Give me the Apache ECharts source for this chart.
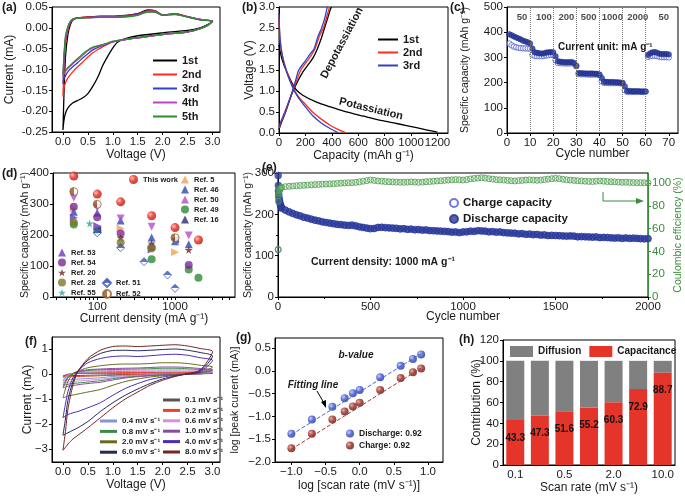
<!DOCTYPE html>
<html><head><meta charset="utf-8">
<script src="https://cdn.jsdelivr.net/npm/echarts@6/dist/echarts.min.js"></script>
<style>html,body{margin:0;padding:0;background:#fff}#c{width:685px;height:497px}</style>
</head><body><div id="c"></div>
<script>
// ================= DATA =================
// (a) CV, first five cycles
const aNames = ['1st', '2nd', '3rd', '4th', '5th'];
const aAnodicV = [0.0, 0.02, 0.05, 0.1, 0.15, 0.2, 0.3, 0.5, 0.75, 1.0, 1.25, 1.5, 1.7, 1.85, 2.0, 2.25, 2.5, 2.75, 3.0];
const aAnodic1 = [-0.245, -0.16, -0.07, -0.015, 0.008, 0.019, 0.024, 0.026, 0.028, 0.028, 0.03, 0.034, 0.043, 0.041, 0.031, 0.034, 0.027, 0.02, 0.016];
const aAnodic2 = [-0.165, -0.1, -0.04, -0.005, 0.012, 0.02, 0.024, 0.026, 0.027, 0.027, 0.029, 0.033, 0.041, 0.04, 0.031, 0.034, 0.027, 0.02, 0.016];
const aAnodic3 = [-0.135, -0.08, -0.03, 0.0, 0.014, 0.021, 0.024, 0.025, 0.027, 0.027, 0.028, 0.032, 0.04, 0.039, 0.03, 0.033, 0.026, 0.02, 0.016];
const aAnodic4 = [-0.118, -0.07, -0.025, 0.002, 0.015, 0.021, 0.023, 0.024, 0.026, 0.026, 0.027, 0.031, 0.039, 0.038, 0.03, 0.033, 0.026, 0.02, 0.016];
const aAnodic5 = [-0.112, -0.065, -0.02, 0.004, 0.016, 0.021, 0.023, 0.024, 0.025, 0.025, 0.026, 0.03, 0.038, 0.038, 0.03, 0.032, 0.026, 0.019, 0.016];
const aCathodicV = [3.0, 2.9, 2.75, 2.5, 2.0, 1.5, 1.25, 1.1, 1.0, 0.9, 0.8, 0.7, 0.6, 0.5, 0.4, 0.3, 0.2, 0.1, 0.05, 0.02, 0.0];
const aCathodic1 = [0.016, 0.008, 0.0, -0.006, -0.012, -0.019, -0.026, -0.034, -0.048, -0.068, -0.09, -0.118, -0.14, -0.158, -0.168, -0.174, -0.18, -0.192, -0.205, -0.222, -0.245];
const aCathodic2 = [0.016, 0.006, -0.002, -0.01, -0.016, -0.024, -0.028, -0.031, -0.034, -0.039, -0.045, -0.052, -0.06, -0.07, -0.082, -0.093, -0.105, -0.12, -0.132, -0.145, -0.165];
const aCathodic3 = [0.016, 0.006, -0.002, -0.01, -0.016, -0.024, -0.028, -0.031, -0.034, -0.038, -0.042, -0.047, -0.053, -0.062, -0.072, -0.083, -0.093, -0.105, -0.115, -0.122, -0.135];
const aCathodic4 = [0.016, 0.006, -0.002, -0.01, -0.016, -0.024, -0.028, -0.031, -0.033, -0.037, -0.041, -0.044, -0.048, -0.055, -0.065, -0.076, -0.086, -0.097, -0.105, -0.11, -0.118];
const aCathodic5 = [0.016, 0.006, -0.002, -0.009, -0.015, -0.023, -0.027, -0.03, -0.032, -0.036, -0.04, -0.043, -0.046, -0.053, -0.062, -0.073, -0.084, -0.095, -0.102, -0.107, -0.112];
const aXTicks = [0, 0.5, 1.0, 1.5, 2.0, 2.5, 3.0];

// (b) galvanostatic profiles
const bNames = ['1st', '2nd', '3rd'];
const bDisCap1 = [0, 15, 40, 70, 100, 130, 180, 280, 390, 490, 640, 770, 900, 1050, 1200];
const bDisV1 = [2.1, 1.85, 1.6, 1.38, 1.18, 1.03, 0.9, 0.74, 0.62, 0.52, 0.4, 0.3, 0.22, 0.12, 0.02];
const bDisCap2 = [0, 8, 25, 55, 85, 120, 160, 210, 260, 320, 390, 450, 505];
const bDisV2 = [2.75, 2.2, 1.85, 1.5, 1.25, 1.0, 0.82, 0.65, 0.48, 0.33, 0.18, 0.08, 0.01];
const bDisCap3 = [0, 8, 25, 55, 85, 120, 160, 210, 260, 320, 390, 445];
const bDisV3 = [2.85, 2.25, 1.85, 1.48, 1.22, 0.98, 0.78, 0.58, 0.4, 0.24, 0.1, 0.01];
const bChgCap1 = [0, 15, 50, 100, 140, 180, 220, 260, 290, 320, 345, 370, 390, 398];
const bChgV1 = [0.08, 0.22, 0.5, 0.95, 1.22, 1.45, 1.62, 1.8, 2.0, 2.25, 2.5, 2.75, 2.95, 3.0];
const bChgCap2 = [0, 15, 50, 100, 140, 165, 210, 250, 272, 305, 336, 360, 378, 382];
const bChgV2 = [0.12, 0.25, 0.52, 0.97, 1.3, 1.5, 1.7, 1.88, 2.0, 2.3, 2.5, 2.75, 2.95, 3.0];
const bChgCap3 = [0, 15, 50, 100, 130, 150, 200, 240, 265, 295, 323, 348, 362, 366];
const bChgV3 = [0.15, 0.28, 0.55, 0.98, 1.3, 1.5, 1.72, 1.9, 2.0, 2.3, 2.5, 2.75, 2.95, 3.0];
const bXTicks = [0, 200, 400, 600, 800, 1000, 1200];

// (c) rate performance
const cDischarge = [392, 388, 383, 379, 375, 371, 366, 363, 360, 355,
  335, 320, 318, 316, 315, 316, 319, 320, 321, 320,
  305, 285, 283, 282, 281, 281, 281, 282, 278, 265,
  238, 237, 237, 236, 236, 236, 236, 235, 235, 232,
  218, 203, 203, 202, 202, 202, 201, 201, 200, 199,
  185, 167, 167, 166, 166, 166, 166, 165, 165, 165,
  310, 316, 320, 321, 318, 314, 313, 313, 313, 312];
const cCharge = [355, 348, 343, 340, 338, 337, 336, 336, 335, 335,
  310, 306, 305, 305, 305, 306, 308, 309, 310, 310,
  290, 278, 277, 277, 276, 276, 276, 277, 275, 268,
  234, 233, 233, 233, 232, 232, 232, 232, 232, 230,
  205, 199, 199, 198, 198, 198, 198, 198, 197, 197,
  170, 163, 163, 163, 163, 163, 163, 163, 163, 164,
  302, 305, 306, 306, 305, 302, 301, 301, 301, 300];
const cRateLabels = ['50', '100', '200', '500', '1000', '2000', '50'];
const cRateLabelCycle = [6.5, 16, 25.7, 35.3, 45.6, 56.6, 67.8];
const cRateBoundaries = [10, 20, 30, 40, 50, 60];
const cXTicks = [0, 10, 20, 30, 40, 50, 60, 70];

// (d) comparison with literature
const dThisWork = [[50, 390], [100, 332], [200, 307], [500, 262], [1000, 224], [2000, 184]];
const dRef5 = [[50, 285], [200, 221], [1000, 144]];
const dRef46 = [[50, 275], [100, 272], [200, 247], [500, 192], [1000, 180], [1500, 170]];
const dRef50 = [[50, 320], [100, 288], [200, 253], [500, 227], [1500, 198]];
const dRef49 = [[50, 234], [100, 213], [500, 122], [1500, 89], [2000, 62]];
const dRef16 = [[100, 218], [1000, 186]];
const dRef53 = [[50, 256], [100, 229], [500, 153]];
const dRef54 = [[50, 291], [100, 257], [200, 205], [500, 160], [1500, 103]];
const dRef20 = [[200, 191], [500, 173], [1500, 152]];
const dRef28 = [[50, 240], [200, 176], [500, 157]];
const dRef55 = [[80, 237], [100, 215]];
const dRef51 = [[100, 207], [200, 159], [400, 114], [800, 71], [1000, 28]];
const dRef52 = [[50, 340], [100, 299], [1000, 191]];
const dXMinorTicks = [30, 40, 50, 60, 70, 80, 90, 100, 200, 300, 400, 500, 600, 700, 800, 900, 1000, 2000, 3000, 4000, 5000];

// (e) long-term cycling at 1000 mA/g
const eEarlyCycles = [1, 2, 3, 4, 6, 8, 11, 14, 17];
const eEarlyDischarge = [294, 270, 256, 248, 240, 233, 227, 222, 218];
const eEarlyCharge = [114, 258, 248, 242, 236, 230, 225, 220, 216];
const eEarlyCE = [42, 84, 89, 91, 93, 94, 95, 95.5, 96];
const eStep = 20; // cycles 20, 40, ... 2000
const eDischarge = [215, 210, 206, 202, 199, 196, 193, 191, 188, 186,
  184, 182, 180, 179, 177, 176, 175, 174, 173, 174,
  172, 170, 168, 167, 165, 166, 168, 169, 168, 167,
  167, 166, 165, 165, 164, 164, 163, 163, 162, 162,
  161, 160, 160, 159, 159, 158, 157, 157, 156, 157,
  158, 159, 159, 160, 160, 159, 158, 158, 157, 157,
  156, 155, 155, 154, 153, 153, 152, 152, 151, 151,
  150, 150, 149, 149, 149, 148, 148, 147, 148, 147,
  146, 146, 146, 145, 145, 145, 144, 144, 144, 143,
  143, 143, 142, 143, 142, 142, 142, 141, 141, 141];
const eCharge = [217, 211, 205, 203, 198, 197, 192, 190, 189, 185,
  185, 181, 181, 178, 178, 175, 176, 173, 174, 172,
  173, 169, 169, 166, 166, 165, 169, 168, 167, 168,
  166, 167, 164, 166, 163, 165, 162, 164, 161, 163,
  160, 161, 159, 160, 158, 159, 156, 158, 155, 158,
  157, 160, 158, 161, 159, 160, 157, 159, 156, 158,
  155, 156, 154, 155, 152, 154, 151, 153, 150, 152,
  149, 151, 148, 150, 148, 149, 147, 148, 147, 148,
  145, 147, 145, 146, 144, 146, 143, 145, 143, 144,
  142, 144, 141, 143, 141, 143, 141, 142, 140, 142];
const eCE = [96.5, 97.0, 97.3, 97.6, 97.8, 98.0, 98.2, 98.4, 98.6, 98.8,
  99.0, 99.1, 99.3, 99.4, 99.6, 99.8, 100.0, 100.2, 100.4, 100.5,
  100.8, 101.2, 101.8, 102.3, 102.8, 102.5, 102.0, 101.8, 101.5, 101.3,
  101.2, 101.0, 100.9, 100.8, 101.0, 101.2, 101.0, 100.8, 101.0, 101.3,
  101.5, 101.8, 102.0, 102.2, 102.5, 102.8, 103.0, 103.2, 103.0, 102.8,
  103.2, 103.8, 104.2, 104.5, 104.8, 104.5, 104.0, 103.6, 103.2, 103.0,
  102.8, 102.5, 102.2, 102.0, 102.3, 102.5, 102.8, 103.0, 102.8, 102.6,
  102.8, 103.2, 103.6, 104.0, 104.3, 104.0, 103.5, 103.0, 102.8, 102.5,
  102.2, 102.0, 101.8, 101.6, 101.5, 101.8, 102.0, 101.8, 101.5, 101.3,
  101.2, 101.0, 100.8, 100.9, 100.7, 100.6, 100.5, 100.5, 100.4, 100.3];
const eCETicks = [0, 20, 40, 60, 80, 100];

// (f) CV at different scan rates
const fRates = ['0.1', '0.2', '0.4', '0.6', '0.8', '1.0', '2.0', '4.0', '6.0', '8.0'];
const fAnodicV = [0.0, 0.05, 0.1, 0.2, 0.3, 0.5, 0.75, 1.0, 1.25, 1.5, 1.75, 2.0, 2.25, 2.5, 2.75, 3.0];
const fAnodic = [
  [-0.08, -0.04, -0.01, 0.01, 0.02, 0.03, 0.03, 0.03, 0.03, 0.04, 0.04, 0.04, 0.04, 0.04, 0.03, 0.03],
  [-0.13, -0.07, -0.02, 0.01, 0.03, 0.04, 0.05, 0.05, 0.06, 0.06, 0.06, 0.07, 0.07, 0.06, 0.05, 0.05],
  [-0.25, -0.14, -0.05, 0.02, 0.05, 0.08, 0.09, 0.1, 0.1, 0.11, 0.11, 0.12, 0.12, 0.11, 0.1, 0.08],
  [-0.35, -0.2, -0.08, 0.02, 0.07, 0.11, 0.13, 0.14, 0.15, 0.15, 0.16, 0.17, 0.17, 0.16, 0.14, 0.12],
  [-0.45, -0.28, -0.12, 0.02, 0.08, 0.14, 0.17, 0.18, 0.19, 0.2, 0.21, 0.23, 0.23, 0.21, 0.18, 0.15],
  [-0.55, -0.35, -0.15, 0.02, 0.1, 0.17, 0.2, 0.22, 0.23, 0.24, 0.26, 0.28, 0.28, 0.26, 0.22, 0.18],
  [-0.95, -0.6, -0.3, 0.0, 0.12, 0.25, 0.33, 0.38, 0.4, 0.4, 0.42, 0.45, 0.45, 0.42, 0.35, 0.28],
  [-1.75, -1.2, -0.7, -0.15, 0.12, 0.45, 0.62, 0.7, 0.72, 0.7, 0.73, 0.77, 0.79, 0.75, 0.65, 0.55],
  [-2.45, -1.8, -1.05, -0.3, 0.12, 0.55, 0.82, 0.94, 0.95, 0.93, 0.95, 0.98, 1.0, 0.95, 0.86, 0.72],
  [-3.05, -2.3, -1.4, -0.45, 0.1, 0.62, 0.95, 1.1, 1.12, 1.1, 1.12, 1.15, 1.17, 1.12, 1.02, 0.9]];
const fCathodicV = [3.0, 2.75, 2.5, 2.25, 2.0, 1.75, 1.5, 1.25, 1.0, 0.75, 0.5, 0.3, 0.2, 0.1, 0.05, 0.0];
const fCathodic = [
  [0.03, 0.0, 0.0, 0.0, -0.01, -0.01, -0.01, -0.02, -0.03, -0.04, -0.05, -0.06, -0.06, -0.07, -0.07, -0.08],
  [0.05, 0.01, 0.0, 0.0, -0.01, -0.02, -0.03, -0.04, -0.05, -0.07, -0.09, -0.1, -0.11, -0.12, -0.12, -0.13],
  [0.08, 0.01, 0.0, -0.01, -0.02, -0.03, -0.05, -0.07, -0.1, -0.15, -0.18, -0.2, -0.21, -0.23, -0.24, -0.25],
  [0.12, 0.02, 0.0, -0.01, -0.03, -0.05, -0.07, -0.1, -0.15, -0.21, -0.25, -0.28, -0.3, -0.32, -0.34, -0.35],
  [0.15, 0.02, 0.0, -0.02, -0.03, -0.06, -0.09, -0.13, -0.19, -0.27, -0.32, -0.36, -0.38, -0.41, -0.43, -0.45],
  [0.18, 0.03, 0.0, -0.02, -0.04, -0.07, -0.11, -0.16, -0.24, -0.33, -0.38, -0.43, -0.46, -0.49, -0.52, -0.55],
  [0.28, 0.05, 0.0, -0.03, -0.07, -0.12, -0.2, -0.3, -0.45, -0.62, -0.72, -0.8, -0.84, -0.88, -0.92, -0.95],
  [0.55, 0.08, 0.0, -0.05, -0.12, -0.22, -0.38, -0.58, -0.85, -1.15, -1.35, -1.5, -1.55, -1.62, -1.68, -1.75],
  [0.72, 0.12, 0.0, -0.08, -0.2, -0.38, -0.6, -0.85, -1.15, -1.5, -1.9, -2.15, -2.25, -2.35, -2.4, -2.45],
  [0.9, 0.15, 0.02, -0.1, -0.25, -0.45, -0.72, -1.0, -1.35, -1.75, -2.15, -2.45, -2.6, -2.8, -2.93, -3.05]];
const fYTicks = [-3, -2, -1, 0, 1];

// (g) b-value analysis
const gLogRate = [-1.0, -0.7, -0.4, -0.22, -0.1, 0.0, 0.3, 0.6, 0.78, 0.9];
const gDischarge = [-1.38, -1.07, -0.79, -0.6, -0.49, -0.42, -0.14, 0.11, 0.26, 0.36];
const gCharge = [-1.7, -1.38, -1.07, -0.89, -0.78, -0.7, -0.42, -0.16, -0.03, 0.05];
const gFitX = [-1.0, 0.9];
const gFitDischarge = [-1.4, 0.38];
const gFitCharge = [-1.72, 0.06];
const gXTicks = [-1.0, -0.5, 0.0, 0.5, 1.0];
const gYTicks = [-2.0, -1.5, -1.0, -0.5, 0.0, 0.5];

// (h) capacitive contribution
const hScanRates = ['0.1', '0.2', '0.5', '1.0', '2.0', '5.0', '10.0'];
const hCapacitance = [43.3, 47.3, 51.6, 55.2, 60.3, 72.9, 88.7];
const hDiffusion = [56.7, 52.7, 48.4, 44.8, 39.7, 27.1, 11.3];

// ================= STYLE / BUILD =================
const FONT = '"Liberation Sans", Arial, Helvetica, sans-serif';
const INK = '#1a1a1a';
const MINUS = '\u2212';
const GREEN = '#3c8c3c';

function merge(a, b) {
  const out = Object.assign({}, a);
  for (const k in b) {
    if (b[k] && typeof b[k] === 'object' && !Array.isArray(b[k]) && a[k] && typeof a[k] === 'object' && !Array.isArray(a[k])) out[k] = merge(a[k], b[k]);
    else out[k] = b[k];
  }
  return out;
}
function axis(o) {
  return merge({
    type: 'value', nameLocation: 'middle', nameMoveOverlap: false,
    nameTextStyle: { fontSize: 12, fontFamily: FONT, color: INK },
    axisLine: { show: true, onZero: false, lineStyle: { color: '#000', width: 1 } },
    axisTick: { show: true, length: 3, lineStyle: { color: '#000', width: 1 } },
    axisLabel: { fontSize: 11.5, fontFamily: FONT, color: INK, margin: 4, formatter: v => String(v) },
    splitLine: { show: false }, minorSplitLine: { show: false }
  }, o);
}
const sgn = (v, d) => (v < 0 ? MINUS : '') + Math.abs(v).toFixed(d);
const pairs = (xs, ys) => xs.map((x, i) => [x, ys[i]]);
const isDecade = v => Math.abs(Math.log10(v) - Math.round(Math.log10(v))) < 1e-6;
function sphere(c0, c1, c2) {
  return { type: 'radial', x: 0.35, y: 0.35, r: 0.75, colorStops: [{ offset: 0, color: c0 }, { offset: 0.45, color: c1 }, { offset: 1, color: c2 }] };
}

const grids = [
  { left: 52, top: 7, width: 168, height: 125 },
  { left: 279, top: 7, width: 169, height: 126 },
  { left: 507, top: 7, width: 171, height: 126 },
  { left: 53, top: 173, width: 182, height: 124 },
  { left: 278, top: 173, width: 370, height: 124 },
  { left: 52, top: 337, width: 168, height: 125 },
  { left: 275, top: 338, width: 168, height: 124 },
  { left: 503, top: 340, width: 172, height: 125 }
].map(g => Object.assign({ show: true, borderColor: '#000', borderWidth: 1, containLabel: false, outerBoundsMode: 'none' }, g));

const xAxes = [
  axis({ gridIndex: 0, min: -0.22, max: 3.15, name: 'Voltage (V)', nameGap: 17,
    axisTick: { customValues: aXTicks }, axisLabel: { customValues: aXTicks, formatter: v => v.toFixed(1) } }),
  axis({ gridIndex: 1, min: 0, max: 1280, name: 'Capacity (mAh g\u207B\u00B9)', nameGap: 17,
    axisTick: { customValues: bXTicks }, axisLabel: { customValues: bXTicks } }),
  axis({ gridIndex: 2, min: 0, max: 74, name: 'Cycle number', nameGap: 15,
    axisTick: { customValues: cXTicks }, axisLabel: { customValues: cXTicks } }),
  axis({ gridIndex: 3, type: 'log', logBase: 10, min: 27, max: 5900, name: 'Current density (mA g\u207B\u00B9)', nameGap: 16,
    axisTick: { customValues: dXMinorTicks }, axisLabel: { formatter: v => (isDecade(v) ? String(Math.round(v)) : '') } }),
  axis({ gridIndex: 4, min: 0, max: 2000, interval: 500, name: 'Cycle number', nameGap: 14,
    minorTick: { show: true, splitNumber: 2, length: 2, lineStyle: { color: '#000' } } }),
  axis({ gridIndex: 5, min: -0.22, max: 3.15, name: 'Voltage (V)', nameGap: 17,
    axisTick: { customValues: aXTicks }, axisLabel: { customValues: aXTicks, formatter: v => v.toFixed(1) } }),
  axis({ gridIndex: 6, min: -1.24, max: 1.22, name: 'log [scan rate (mV s\u207B\u00B9)]', nameGap: 18,
    axisTick: { customValues: gXTicks }, axisLabel: { customValues: gXTicks, formatter: v => sgn(v, 1) } }),
  axis({ gridIndex: 7, type: 'category', data: hScanRates, name: 'Scan rate (mV s\u207B\u00B9)', nameGap: 17,
    axisTick: { show: false } })
];
const yAxes = [
  axis({ gridIndex: 0, min: -0.25, max: 0.05, interval: 0.05, name: 'Current (mA)', nameGap: 36,
    axisLabel: { formatter: v => v.toFixed(2) } }),
  axis({ gridIndex: 1, min: 0, max: 3, interval: 0.5, name: 'Voltage (V)', nameGap: 23,
    axisLabel: { formatter: v => v.toFixed(1) } }),
  axis({ gridIndex: 2, min: 0, max: 500, interval: 100, name: 'Specific capacity (mAh g\u207B\u00B9)', nameGap: 36,
    nameTextStyle: { fontSize: 10.5 } }),
  axis({ gridIndex: 3, min: 0, max: 400, interval: 100, name: 'Specific capacity (mAh g\u207B\u00B9)', nameGap: 22,
    nameTextStyle: { fontSize: 10.5 } }),
  axis({ gridIndex: 4, min: 0, max: 300, interval: 100, name: 'Specific capacity (mAh g\u207B\u00B9)', nameGap: 24,
    nameTextStyle: { fontSize: 10.5 }, minorTick: { show: true, splitNumber: 2, length: 2, lineStyle: { color: '#000' } } }),
  axis({ gridIndex: 4, position: 'right', min: 0, max: 109, name: 'Coulombic efficiency (%)', nameGap: 25,
    nameTextStyle: { fontSize: 10.5, color: GREEN }, axisLine: { lineStyle: { color: GREEN } },
    axisTick: { customValues: eCETicks, lineStyle: { color: GREEN } },
    axisLabel: { customValues: eCETicks, color: GREEN } }),
  axis({ gridIndex: 5, min: -3.52, max: 1.48, name: 'Current (mA)', nameGap: 18,
    axisTick: { customValues: fYTicks }, axisLabel: { customValues: fYTicks, formatter: v => sgn(v, 0) } }),
  axis({ gridIndex: 6, min: -2.0, max: 0.72, name: 'log [peak current (mA)]', nameGap: 34,
    nameTextStyle: { fontSize: 10.5 },
    axisTick: { customValues: gYTicks }, axisLabel: { customValues: gYTicks, formatter: v => sgn(v, 1) } }),
  axis({ gridIndex: 7, min: 0, max: 120, interval: 20, name: 'Contribution (%)', nameGap: 20 })
];

const series = [];
// (a)
const aColors = ['#000000', '#ff2a1a', '#3341c4', '#c040c8', '#2e8b2e'];
const aAn = [aAnodic1, aAnodic2, aAnodic3, aAnodic4, aAnodic5];
const aCa = [aCathodic1, aCathodic2, aCathodic3, aCathodic4, aCathodic5];
aNames.forEach((n, i) => series.push({
  name: n, type: 'line', xAxisIndex: 0, yAxisIndex: 0, symbol: 'none', smooth: 0.2,
  color: aColors[i], lineStyle: { width: 1.3 },
  data: pairs(aAnodicV, aAn[i]).concat(pairs(aCathodicV, aCa[i]))
}));
// (b)
const bColors = ['#000000', '#ff2a1a', '#3341c4'];
const bDis = [[bDisCap1, bDisV1], [bDisCap2, bDisV2], [bDisCap3, bDisV3]];
const bChg = [[bChgCap1, bChgV1], [bChgCap2, bChgV2], [bChgCap3, bChgV3]];
bNames.forEach((n, i) => {
  series.push({ name: n, type: 'line', xAxisIndex: 1, yAxisIndex: 1, symbol: 'none', smooth: 0.3, color: bColors[i], lineStyle: { width: 1.3 }, data: pairs(bDis[i][0], bDis[i][1]) });
  series.push({ name: n, type: 'line', xAxisIndex: 1, yAxisIndex: 1, symbol: 'none', smooth: 0.3, color: bColors[i], lineStyle: { width: 1.3 }, data: pairs(bChg[i][0], bChg[i][1]) });
});
// (c)
const cCycles = cDischarge.map((_, i) => i + 1);
series.push({ name: 'cCharge', type: 'scatter', xAxisIndex: 2, yAxisIndex: 2, symbol: 'circle', symbolSize: 5.5,
  itemStyle: { color: 'rgba(255,255,255,0.6)', borderColor: '#4a5bd0', borderWidth: 0.9 }, data: pairs(cCycles, cCharge),
  markLine: { silent: true, symbol: 'none', label: { show: false }, lineStyle: { type: 'dotted', color: '#777', width: 1 },
    data: cRateBoundaries.map(c => ({ xAxis: c })) } });
series.push({ name: 'cDischarge', type: 'scatter', xAxisIndex: 2, yAxisIndex: 2, symbol: 'circle', symbolSize: 5.5,
  itemStyle: { color: '#2b3a9c', borderColor: '#1c2878', borderWidth: 0.6 }, data: pairs(cCycles, cDischarge) });
series.push({ name: 'cRates', type: 'scatter', xAxisIndex: 2, yAxisIndex: 2, symbolSize: 0, silent: true,
  data: cRateLabelCycle.map((c, i) => ({ value: [c, 457], label: { formatter: cRateLabels[i] } })),
  label: { show: true, position: 'inside', fontSize: 9.5, fontWeight: 'bold', fontFamily: FONT, color: INK } });
// (d)
function halfFill(col, horizontal) {
  return { type: 'linear', x: 0, y: 0, x2: horizontal ? 1 : 0, y2: horizontal ? 0 : 1,
    colorStops: [{ offset: 0, color: col }, { offset: 0.5, color: col }, { offset: 0.5, color: '#ffffff' }, { offset: 1, color: '#ffffff' }] };
}
const STAR = 'path://M50,0 L61,35 L98,35 L68,57 L79,91 L50,70 L21,91 L32,57 L2,35 L39,35 Z';
const dSeries = [
  ['This work', dThisWork, 'circle', 0, sphere('#ffb0a0', '#e8281e', '#a80e0e'), 9, null],
  ['Ref. 5', dRef5, 'triangle', -90, '#f5a055', 8, null],
  ['Ref. 46', dRef46, 'triangle', 0, '#3047b5', 8, null],
  ['Ref. 50', dRef50, 'triangle', 180, '#b150c8', 8, null],
  ['Ref. 49', dRef49, 'circle', 0, '#2e8b3a', 8, null],
  ['Ref. 16', dRef16, 'triangle', 90, '#2c2c6e', 8, null],
  ['Ref. 53', dRef53, 'triangle', -90, '#6a3ab8', 8, null],
  ['Ref. 54', dRef54, 'circle', 0, '#7b2a96', 8, null],
  ['Ref. 20', dRef20, STAR, 0, '#7a1f1f', 8, null],
  ['Ref. 28', dRef28, 'circle', 0, '#7a7a28', 8, null],
  ['Ref. 55', dRef55, STAR, 0, '#3aa0a0', 8, null],
  ['Ref. 51', dRef51, 'diamond', 0, halfFill('#3a55b5', false), 8, '#3a55b5'],
  ['Ref. 52', dRef52, 'circle', 0, halfFill('#8b5a2b', true), 8, '#a0622a']
];
dSeries.forEach(s => series.push({
  name: s[0], type: 'scatter', xAxisIndex: 3, yAxisIndex: 3, symbol: s[2], symbolRotate: s[3], symbolSize: s[5],
  itemStyle: s[6] ? { color: s[4], borderColor: s[6], borderWidth: 1 } : { color: s[4] }, data: s[1]
}));
// (e)
const eCycles = eDischarge.map((_, i) => (i + 1) * eStep);
series.push({ name: 'Charge capacity', type: 'scatter', xAxisIndex: 4, yAxisIndex: 4, symbol: 'circle', symbolSize: 6,
  itemStyle: { color: 'rgba(255,255,255,0)', borderColor: '#4a5bd0', borderWidth: 1 },
  data: pairs(eEarlyCycles, eEarlyCharge).concat(pairs(eCycles, eCharge)) });
series.push({ name: 'Discharge capacity', type: 'scatter', xAxisIndex: 4, yAxisIndex: 4, symbol: 'circle', symbolSize: 7,
  itemStyle: { color: '#2d3c9e', borderColor: '#24318a', borderWidth: 0.5 },
  data: pairs(eEarlyCycles, eEarlyDischarge).concat(pairs(eCycles, eDischarge)) });
series.push({ name: 'CE', type: 'scatter', xAxisIndex: 4, yAxisIndex: 5, symbol: 'circle', symbolSize: 6,
  itemStyle: { color: 'rgba(140,200,140,0.25)', borderColor: '#4b9a4b', borderWidth: 1 },
  data: pairs(eEarlyCycles, eEarlyCE).concat(pairs(eCycles, eCE)) });
// (f)
const fColors = ['#555555', '#e8402a', '#8a90d8', '#d890d8', '#3b8a4a', '#8a4c9c', '#6b6a1c', '#4b2bb5', '#1f2a5c', '#7a2323'];
const fName = r => r + ' mV s\u207B\u00B9';
fRates.forEach((r, i) => series.push({
  name: fName(r), type: 'line', xAxisIndex: 5, yAxisIndex: 6, symbol: 'none', smooth: 0.25,
  color: fColors[i], lineStyle: { width: 1 },
  data: pairs(fAnodicV, fAnodic[i]).concat(pairs(fCathodicV, fCathodic[i]))
}));
// (g)
series.push({ name: 'gFitDis', type: 'line', xAxisIndex: 6, yAxisIndex: 7, symbol: 'none', color: '#4a62d8', lineStyle: { type: 'dashed', width: 1 }, data: pairs(gFitX, gFitDischarge) });
series.push({ name: 'gFitChg', type: 'line', xAxisIndex: 6, yAxisIndex: 7, symbol: 'none', color: '#9a3a30', lineStyle: { type: 'dashed', width: 1 }, data: pairs(gFitX, gFitCharge) });
series.push({ name: 'Discharge: 0.92', type: 'scatter', xAxisIndex: 6, yAxisIndex: 7, symbolSize: 8,
  itemStyle: { color: sphere('#b8c4ff', '#3f55cc', '#1f2f90') }, data: pairs(gLogRate, gDischarge) });
series.push({ name: 'Charge: 0.92', type: 'scatter', xAxisIndex: 6, yAxisIndex: 7, symbolSize: 8,
  itemStyle: { color: sphere('#e0a090', '#9a2a22', '#5a1010') }, data: pairs(gLogRate, gCharge) });
// (h)
series.push({ name: 'Capacitance', type: 'bar', xAxisIndex: 7, yAxisIndex: 8, stack: 'h', barWidth: 18, color: '#e5352b', data: hCapacitance,
  label: { show: true, position: 'insideTop', distance: 13, fontSize: 10, fontWeight: 'bold', fontFamily: FONT, color: '#111' } });
series.push({ name: 'Diffusion', type: 'bar', xAxisIndex: 7, yAxisIndex: 8, stack: 'h', barWidth: 18, color: '#808080', data: hDiffusion });

// legends
function lg(o) {
  return merge({ padding: 0, selectedMode: false, orient: 'vertical',
    textStyle: { fontFamily: FONT, fontWeight: 'bold', color: INK, fontSize: 11, lineHeight: 11 } }, o);
}
const dLegendText = { fontSize: 7.5, lineHeight: 9 };
const legends = [
  lg({ data: aNames, left: 153, top: 55, icon: 'rect', itemWidth: 24, itemHeight: 2, itemGap: 3 }),
  lg({ data: bNames, left: 378, top: 34, icon: 'rect', itemWidth: 20, itemHeight: 2, itemGap: 2 }),
  lg({ data: ['This work'], left: 129, top: 175, itemWidth: 9, itemHeight: 9, textStyle: dLegendText }),
  lg({ data: ['Ref. 5', 'Ref. 46', 'Ref. 50', 'Ref. 49', 'Ref. 16'], left: 181, top: 175, itemWidth: 8, itemHeight: 8, itemGap: 1, textStyle: dLegendText }),
  lg({ data: ['Ref. 53', 'Ref. 54', 'Ref. 20', 'Ref. 28', 'Ref. 55'], left: 58, top: 248, itemWidth: 8, itemHeight: 8, itemGap: 1, textStyle: dLegendText }),
  lg({ data: ['Ref. 51', 'Ref. 52'], left: 102, top: 278, itemWidth: 8, itemHeight: 8, itemGap: 1, textStyle: dLegendText }),
  lg({ data: ['Charge capacity', 'Discharge capacity'], left: 449, top: 197, itemWidth: 8, itemHeight: 8, itemGap: 4, textStyle: { fontSize: 11.5, lineHeight: 12 } }),
  lg({ data: ['0.1', '0.2', '0.6', '1.0', '4.0', '8.0'].map(fName), left: 163, top: 396, icon: 'rect', itemWidth: 17, itemHeight: 3, itemGap: 2.4, textStyle: { fontSize: 8, lineHeight: 8 } }),
  lg({ data: ['0.4', '0.8', '2.0', '6.0'].map(fName), left: 100, top: 417, icon: 'rect', itemWidth: 17, itemHeight: 3, itemGap: 2.4, textStyle: { fontSize: 8, lineHeight: 8 } }),
  lg({ data: ['Discharge: 0.92', 'Charge: 0.92'], left: 346, top: 429, itemWidth: 8, itemHeight: 8, itemGap: 3, textStyle: { fontSize: 8.5, lineHeight: 8.5 } }),
  lg({ data: ['Diffusion', 'Capacitance'], orient: 'horizontal', left: 510, top: 346, icon: 'rect', itemWidth: 23, itemHeight: 11, itemGap: 8, textStyle: { fontSize: 10, lineHeight: 11 } })
];

// annotations
function txt(t, x, y, o) {
  return { type: 'text', x: x, y: y, rotation: (o && o.rot) || 0, silent: true, z: 100,
    style: { text: t, fill: (o && o.fill) || INK, fontFamily: FONT, fontSize: (o && o.size) || 12,
      fontWeight: 'bold', fontStyle: (o && o.italic) ? 'italic' : 'normal',
      align: (o && o.align) || 'left', verticalAlign: (o && o.va) || 'top' } };
}
const graphic = [
  txt('(a)', 2, 2), txt('(b)', 242, 2), txt('(c)', 450, 2), txt('(d)', 2, 168),
  txt('(e)', 262, 162), txt('(f)', 25, 336), txt('(g)', 236, 332), txt('(h)', 459, 334),
  txt('Depotassiation', 342, 43, { size: 11, align: 'center', va: 'middle', rot: 62 * Math.PI / 180 }),
  txt('Potassiation', 371, 109, { size: 11, align: 'center', va: 'middle', rot: -13.5 * Math.PI / 180 }),
  txt('Current unit: mA g\u207B\u00B9', 558, 47, { size: 10, va: 'middle' }),
  txt('Current density: 1000 mA g\u207B\u00B9', 311, 262, { size: 10.5, va: 'middle' }),
  txt('b-value', 356, 355, { size: 10, align: 'center', va: 'middle', italic: true }),
  txt('Fitting line', 313, 385, { size: 10, align: 'center', va: 'middle', italic: true }),
  { type: 'polyline', silent: true, shape: { points: [[603, 192], [603, 201], [637, 201]] }, style: { stroke: GREEN, lineWidth: 1, fill: null } },
  { type: 'polygon', silent: true, shape: { points: [[644, 201], [636, 198], [636, 204]] }, style: { fill: GREEN } },
  { type: 'line', silent: true, shape: { x1: 317, y1: 391, x2: 324, y2: 403 }, style: { stroke: '#000', lineWidth: 1 } },
  { type: 'polygon', silent: true, shape: { points: [[326, 408], [321, 402], [326, 400]] }, style: { fill: '#000' } }
];

const chart = echarts.init(document.getElementById('c'), null, { renderer: 'canvas' });
chart.setOption({
  animation: false, backgroundColor: '#fff',
  textStyle: { fontFamily: FONT },
  grid: grids, xAxis: xAxes, yAxis: yAxes, series: series, legend: legends, graphic: graphic
});
</script></body></html>
